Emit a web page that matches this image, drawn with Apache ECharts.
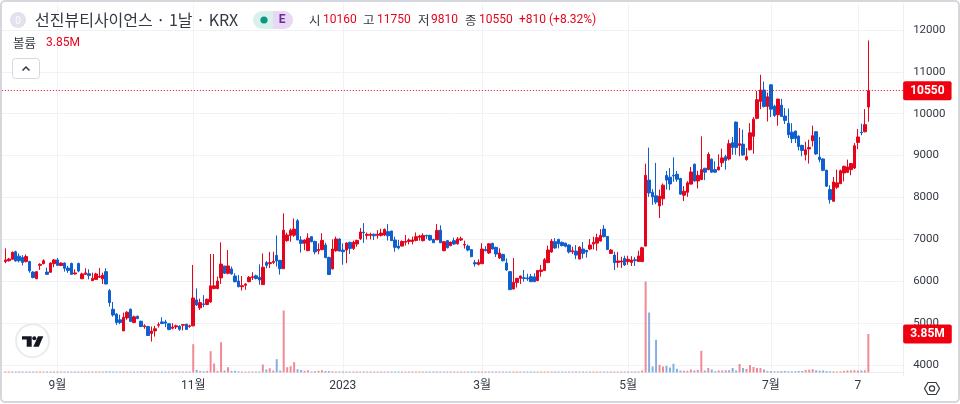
<!DOCTYPE html>
<html><head><meta charset="utf-8">
<style>html,body{margin:0;padding:0;background:#fff}#c{width:960px;height:404px}</style>
<script src="https://cdn.jsdelivr.net/npm/echarts@6/dist/echarts.min.js"></script>
</head><body><div id="c"></div>
<script>
const opens=[6470,6490,6525,6705,6600,6570,6470,6470,6220,6060,6380,6420,6220,6215,6420,6510,6375,6435,6315,6425,6175,6425,6060,6165,6180,6015,6045,6095,6060,6230,5775,5330,5215,5080,4815,5125,5330,5015,5165,5045,4915,4920,4755,4815,4950,5030,5030,4985,4880,4910,4925,4950,4975,4920,4935,5555,5365,5460,5445,5505,5825,5825,6080,6365,6190,6295,6125,6005,
5870,5905,5990,6090,6130,6095,5920,6445,6420,6450,6620,6500,6300,6970,7095,7100,7445,6985,6905,6730,7065,6950,6730,6755,6865,6570,6295,6730,7010,6745,6745,6930,6785,6890,7015,7175,7095,7095,7125,7095,7095,7105,7185,7200,6985,6840,6840,6930,6950,6950,6975,7050,6970,7095,7095,7000,6990,7220,6730,6970,6850,6970,6895,6985,6865,6840,6755,6445,6405,
6420,6760,6675,6905,6810,6555,6640,6435,6230,5815,5970,6070,6085,6080,6110,6105,6015,6235,6255,6445,6700,6945,7000,6930,6910,6865,6705,6720,6530,6770,6740,6770,6890,6910,6960,7245,7070,6665,6625,6450,6460,6545,6470,6450,6515,6470,6470,6840,8415,8125,8040,7800,7970,8525,8485,8530,8555,8455,8055,8125,8320,8795,8395,8430,8700,8665,8915,8665,8660,
8830,8975,8920,9310,9800,9245,9275,8905,9140,9460,9890,10295,10565,10175,10690,10180,9975,10205,9945,9775,9560,9585,9465,9245,9020,9160,9355,9570,8965,8920,8650,8190,7910,8245,8330,8585,8600,8665,8705,9315,9560,9570,10160];
const closes=[6510,6530,6690,6485,6490,6450,6590,6250,6090,6230,6405,6490,6165,6435,6510,6380,6435,6310,6260,6165,6200,6245,6175,6200,6135,6070,6175,6120,6145,5935,5490,5195,5015,5015,5140,5260,5040,5150,5110,4920,4935,4705,4810,4865,4965,4990,5000,4850,4905,4935,4855,4965,4850,4935,5600,5435,5490,5445,5570,5890,5890,6005,6410,6190,6365,6175,5990,5870,
5895,5935,6095,6110,6065,6030,6335,6380,6445,6475,6485,6300,7220,7105,7220,7245,6985,6905,6985,7030,6945,6700,6760,6975,6565,6160,6770,7010,6720,6705,6915,6785,6930,6975,7175,7160,7120,7120,7085,7125,7150,7240,7085,6970,6810,6795,6950,6950,6985,6985,7065,7080,7095,7080,6985,6920,7215,6920,6945,6800,6935,6890,7010,7015,6880,6745,6585,6415,6450,
6770,6730,6895,6770,6650,6675,6490,6270,5800,5975,6070,6125,6065,6055,5990,5990,6255,6270,6515,6745,6960,6795,6895,6850,6835,6700,6730,6625,6815,6665,6700,6865,6930,7040,7095,7065,6760,6745,6445,6485,6485,6390,6525,6505,6490,6605,6800,8530,8110,8015,7890,8030,8295,8415,8325,8515,8435,8080,8150,8350,8610,8395,8530,8665,8605,9030,8605,8605,8730,
8945,8885,9285,9195,9195,9285,9015,8975,9545,9870,10335,10565,10175,10405,10110,9960,10350,9935,9840,9500,9405,9410,9220,9125,9140,9195,9475,9040,8905,8650,8270,7950,8370,8350,8640,8745,8730,8810,9235,9445,9545,9740,10550];
const highs=[6785,6560,6710,6730,6665,6625,6640,6490,6240,6240,6430,6525,6325,6450,6530,6555,6450,6450,6370,6445,6285,6445,6205,6310,6285,6205,6205,6315,6205,6310,5815,5505,5240,5200,5250,5285,5350,5180,5180,5060,4975,4935,4920,4935,5020,5140,5080,5000,5000,4965,4950,4975,4985,4965,6390,5830,5585,5670,5585,6650,6650,6110,6930,6365,6745,6350,6190,6150,
6125,5950,6125,6215,6160,6405,6665,6485,6700,6705,7095,6510,7620,7160,7260,7500,7485,7080,7000,7145,7080,6970,6905,7145,6920,6585,7000,7065,7025,6905,6930,6945,6970,6990,7270,7390,7165,7160,7135,7220,7255,7260,7365,7205,7065,6985,6975,7105,7025,7065,7165,7110,7145,7110,7110,7015,7365,7335,6960,6985,6945,7040,7055,7065,6970,6880,6770,6510,6525,
6910,6840,6910,6920,6825,6785,6660,6545,6245,6555,6080,6135,6270,6180,6175,6190,6270,6390,6555,6850,7010,7030,7015,6945,6920,6880,6825,6865,6835,6935,6745,7010,7065,7135,7245,7340,7080,6770,6705,6700,6585,6610,6610,6600,6580,6730,6825,8810,9190,8200,8825,8190,8335,8635,8705,8960,8635,8470,8270,8390,8730,8810,8635,9460,8705,9080,8930,8865,9030,
9165,9020,9380,9445,9815,9660,9620,9180,9775,9920,10545,10930,10770,10505,10705,10215,10355,10355,10135,10125,9775,9595,9485,9260,9330,9380,9715,9580,9445,8935,8665,8290,8490,8665,8665,8760,8905,8825,9300,9635,9760,10110,11750];
const lows=[6430,6470,6520,6470,6450,6380,6450,6205,6070,6055,6270,6405,6160,6205,6335,6365,6365,6230,6200,6160,6160,6215,6055,6150,6045,6005,6040,6080,5935,5925,5395,5155,4960,4975,4815,5080,5030,5000,5095,4905,4865,4700,4560,4680,4895,4975,4905,4830,4850,4860,4815,4825,4845,4890,4925,5410,5315,5380,5430,5490,5810,5810,5935,6175,6165,6160,5975,5855,
5780,5795,5975,6030,6045,5915,5915,6310,6315,6410,6350,6160,6295,6945,6945,7060,6985,6685,6745,6720,6930,6645,6645,6740,6550,6150,6285,6705,6715,6395,6430,6650,6745,6825,6985,6915,7000,7000,6985,7015,7070,7080,6970,6960,6705,6760,6835,6855,6880,6880,6950,6970,6950,7010,6970,6915,6985,6915,6715,6785,6835,6865,6875,6960,6780,6715,6580,6350,6375,
6410,6715,6650,6760,6580,6530,6475,6245,5795,5810,5850,5935,5990,6010,5985,5985,6005,6110,6245,6435,6680,6775,6785,6835,6810,6665,6650,6530,6525,6545,6565,6745,6760,6730,6945,7045,6745,6650,6270,6325,6315,6365,6395,6365,6365,6460,6460,6835,8015,7825,7840,7510,7815,8190,8175,8375,8375,8070,7915,8015,8310,8380,8215,8415,8415,8650,8595,8590,8645,
8730,8665,8885,9020,9020,8985,9000,8880,9125,9045,9870,10110,10150,9815,9920,9920,9715,9920,9755,9420,9300,9300,9125,8985,8885,8810,9220,9020,8840,8625,8250,7855,7905,8205,8325,8385,8585,8530,8680,9155,9485,9555,9810];
const volumesM=[.06,.05,.07,.05,.06,.05,.05,.08,.05,.06,.05,.05,.06,.05,.06,.05,.05,.06,.05,.05,.06,.05,.05,.06,.05,.05,.05,.06,.06,.12,.12,.09,.08,.06,.07,.05,.06,.05,.05,.05,.06,.06,.05,.05,.05,.05,.05,.05,.05,.05,.05,.05,.05,.05,
2.83,.25,.15,.12,.15,2.13,.9,.15,3.03,.2,.53,.15,.17,.12,.1,.1,.08,.08,.08,.1,.8,.3,.43,.2,1.33,.2,6.2,.53,.63,1.03,.33,.25,.17,.23,.1,.13,.17,.23,.15,.15,
.12,.08,.07,.06,.08,.1,.07,.06,.06,.07,.08,.06,.05,.06,.06,.07,.09,.06,.06,.08,.07,.06,.06,.05,.07,.06,.08,.06,.06,.07,.1,.06,.05,.06,.05,.06,.05,.06,.07,.06,.05,.06,.05,.05,.06,.06,.08,.05,.06,.05,.07,.06,.05,.08,.06,.06,.07,.05,.05,.06,.07,.05,.06,.05,.06,.08,.06,.05,.06,.06,.07,.05,.06,.05,.06,.05,.06,.05,.07,.05,.07,.05,.05,.05,.06,.06,.07,.06,.08,.2,
9.1,6.0,.6,3.27,.77,.6,.67,.5,.87,.37,.2,.17,.17,.3,.2,.25,2.17,.2,.45,.3,.12,.2,.2,.22,.23,.45,.2,.85,.45,.35,.75,.55,.45,.45,.3,.15,.15,.12,.12,.15,.15,.12,.12,.12,.15,.15,.25,.28,.33,.22,.18,.2,.15,.12,.12,.1,.12,.15,.2,.2,.22,.2,.2,.22,3.85];
const tickIndexes=[15,54,97,137,179,220,245];
const tickLabels=['9월','11월','2023','3월','5월','7월','7'];
const rightPad=10, upColor='#e4051c', downColor='#0f5fcf', upVol='#ef8b95', downVol='#85aee2';
const grid='#f0f2f5', ink='#333842', font="Roboto,'Noto Sans CJK KR',sans-serif", cjk="'Noto Sans CJK KR',sans-serif";
const n=closes.length;
const categories=Array.from({length:n+rightPad+1},(_,i)=>{const k=tickIndexes.indexOf(i-1);return k>=0?tickLabels[k]:''});
const isTick=(i)=>tickIndexes.indexOf(i-1)>=0;
const candles=closes.map((c,i)=>[i+1,opens[i],c,lows[i],highs[i]]);
const bars=volumesM.map((v,i)=>({value:[i+1,v],itemStyle:{color:closes[i]>=opens[i]?upVol:downVol}}));
const last=closes[n-1], lastVol=volumesM[n-1];
const txt=(x,y,text,fill,size,extra)=>({type:'text',silent:true,z:50,x,y,style:Object.assign({text,fill,font:size+'px '+cjk,textVerticalAlign:'middle'},extra||{})});
const ohlc=[[309,'시',ink],[323,'10160',upColor],[363,'고',ink],[377,'11750',upColor],[418,'저',ink],[431,'9810',upColor],[465,'종',ink],[479,'10550',upColor],[519,'+810',upColor],[549,'(+8.32%)',upColor]];
const lastLabel=(text)=>({position:'end',distance:0,formatter:text,color:'#fff',backgroundColor:'#f0000f',fontWeight:'bold',fontSize:12,fontFamily:font,padding:[4,7,3,7],borderRadius:2});
const chart=echarts.init(document.getElementById('c'),null,{renderer:'canvas'});
chart.setOption({
 animation:false,backgroundColor:'#fff',
 grid:{left:1.82,right:56.86,top:3.8,bottom:28.5},
 xAxis:{type:'category',data:categories,boundaryGap:false,
  axisLine:{show:true,lineStyle:{color:'#eceef2'}},axisTick:{show:false},
  axisLabel:{interval:(i)=>isTick(i),color:ink,fontSize:12,fontFamily:font,margin:4,hideOverlap:false},
  splitLine:{show:true,interval:(i)=>isTick(i),lineStyle:{color:grid,width:1}}},
 yAxis:[{type:'value',position:'right',min:3750,max:12625,interval:125,
  axisLine:{show:true,lineStyle:{color:'#eceef2'}},axisTick:{show:false},
  axisLabel:{color:ink,fontSize:11.5,fontFamily:font,margin:10,padding:[2,0,0,0],hideOverlap:false,formatter:(v)=>v%1000===0?String(v):''},
  splitLine:{show:true,lineStyle:{width:1,color:['rgba(0,0,0,0)','rgba(0,0,0,0)',grid,'rgba(0,0,0,0)','rgba(0,0,0,0)','rgba(0,0,0,0)','rgba(0,0,0,0)','rgba(0,0,0,0)']}}},
  {type:'value',position:'right',min:-0.3,max:36.87,show:false,splitLine:{show:false}}],
 series:[
  {type:'bar',yAxisIndex:1,data:bars,encode:{x:0,y:1},barWidth:2,barMinHeight:1,z:2,silent:true,
   markLine:{silent:true,symbol:'none',lineStyle:{color:'rgba(0,0,0,0)',width:1},data:[{yAxis:lastVol}],label:lastLabel(lastVol+'M')}},
  {type:'candlestick',data:candles,encode:{x:0,y:[1,2,3,4]},barWidth:3,z:3,silent:true,
   itemStyle:{color:upColor,color0:downColor,borderColor:upColor,borderColor0:downColor,borderWidth:1},
   markLine:{silent:true,symbol:'none',lineStyle:{color:'#e4051c',type:[1,2],width:1},data:[{yAxis:last}],label:lastLabel(String(last))}}
 ],
 graphic:{elements:[
  {type:'rect',silent:true,z:60,shape:{x:1,y:1,width:958,height:401,r:4},style:{fill:'none',stroke:'#d5d7dc',lineWidth:2}},
  {type:'circle',silent:true,z:50,shape:{cx:18,cy:20,r:8},style:{fill:'#e1e2ee'}},
  txt(18,20,'0','#fff',10,{textAlign:'center'}),
  txt(35,20,'선진뷰티사이언스 · 1날 · KRX',ink,16),
  {type:'rect',silent:true,z:50,shape:{x:253,y:11,width:22,height:18,r:[9,0,0,9]},style:{fill:'#d9f0ec'}},
  {type:'rect',silent:true,z:50,shape:{x:273,y:11,width:20,height:18,r:[0,9,9,0]},style:{fill:'#e9d8f4'}},
  {type:'circle',silent:true,z:51,shape:{cx:264,cy:20,r:3.6},style:{fill:'#089981'}},
  txt(282,20,'E','#6a2a9a',12,{textAlign:'center',font:'bold 12px '+font}),
  ...ohlc.map(o=>txt(o[0],20,o[1],o[2],o[2]===ink?12.5:12,o[2]===ink?{}:{font:'12px '+font})),
  txt(13,43,'볼륨',ink,12.5),
  txt(46,43,'3.85M',upColor,12,{font:'12px '+font}),
  {type:'rect',silent:true,z:50,shape:{x:12.5,y:58.5,width:27,height:20,r:3},style:{fill:'#fff',stroke:'#d5d7dc',lineWidth:1}},
  {type:'polyline',silent:true,z:51,shape:{points:[[22.5,70.5],[26,67],[29.5,70.5]]},style:{fill:'none',stroke:'#333842',lineWidth:1.5}},
  {type:'circle',silent:true,z:50,shape:{cx:32.5,cy:340.7,r:16.5},style:{fill:'#fff',stroke:'#e9ebee',lineWidth:2}},
  {type:'polygon',silent:true,z:51,shape:{points:[[22,336.3],[31.7,336.3],[31.7,346.7],[26.7,346.7],[26.7,339.5],[22,339.5]]},style:{fill:'#131722'}},
  {type:'circle',silent:true,z:51,shape:{cx:34.3,cy:338.3,r:2},style:{fill:'#131722'}},
  {type:'polygon',silent:true,z:51,shape:{points:[[38,336.3],[43.3,336.3],[38.8,346.7],[33.3,346.7]]},style:{fill:'#131722'}},
  {type:'polygon',silent:true,z:51,shape:{points:[[928,382.5],[936,382.5],[939.5,388.5],[936,394.5],[928,394.5],[924.5,388.5]]},style:{fill:'none',stroke:'#333842',lineWidth:1.2}},
  {type:'circle',silent:true,z:51,shape:{cx:932,cy:388.5,r:2.6},style:{fill:'none',stroke:'#333842',lineWidth:1.2}}
 ]}
});
</script></body></html>
